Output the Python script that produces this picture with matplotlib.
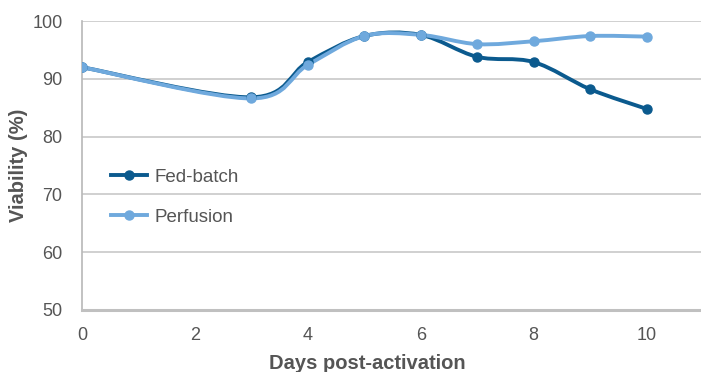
import numpy as np
import matplotlib
matplotlib.use("Agg")
from matplotlib import pyplot as plt
from matplotlib.path import Path
from matplotlib.patches import PathPatch
from matplotlib.lines import Line2D

days = [0, 3, 4, 5, 6, 7, 8, 9, 10]
fed_batch = [92.0, 86.8, 92.9, 97.4, 97.6, 93.8, 92.9, 88.2, 84.8]
perfusion = [92.0, 86.6, 92.4, 97.4, 97.6, 96.0, 96.5, 97.4, 97.3]

x_ticks = [0, 2, 4, 6, 8, 10]
y_ticks = [50, 60, 70, 80, 90, 100]

dark_blue = "#0B5A8E"
light_blue = "#6FA9DD"
text_grey = "#555555"

plt.rcParams["font.family"] = ["Liberation Sans", "DejaVu Sans"]


def smooth_path(xs, ys):
    # bezier segments through each point, spreadsheet-style smoothing
    pts = np.column_stack([xs, ys]).astype(float)
    verts = [pts[0]]
    codes = [Path.MOVETO]
    n = len(pts)
    for i in range(n - 1):
        p0 = pts[i - 1] if i > 0 else pts[i]
        p1 = pts[i]
        p2 = pts[i + 1]
        p3 = pts[i + 2] if i + 2 < n else pts[i + 1]
        c1 = p1 + (p2 - p0) / 6.0
        c2 = p2 - (p3 - p1) / 6.0
        verts += [c1, c2, p2]
        codes += [Path.CURVE4] * 3
    return Path(verts, codes)


fig = plt.figure(figsize=(7.01, 3.72), dpi=100)
ax = fig.add_axes([82 / 701, 1 - 310 / 372, 621 / 701, 289 / 372])

for vals, colour, name in [(fed_batch, dark_blue, "Fed-batch"),
                           (perfusion, light_blue, "Perfusion")]:
    ax.add_patch(PathPatch(smooth_path(days, vals), facecolor="none",
                           edgecolor=colour, lw=2.8, capstyle="round",
                           joinstyle="round", zorder=3))
    ax.plot(days, vals, linestyle="none", marker="o", markersize=6.5,
            color=colour, zorder=4)

ax.set_xlim(0, 11)
ax.set_ylim(50, 100)
ax.set_xticks(x_ticks)
ax.set_yticks(y_ticks)
ax.tick_params(length=0, labelsize=13, colors=text_grey)
ax.tick_params(axis="y", pad=14)
ax.tick_params(axis="x", pad=12)

ax.grid(axis="y", color="#c8c8c8", lw=1.2)
ax.set_axisbelow(True)
for side in ["top", "right"]:
    ax.spines[side].set_visible(False)
ax.spines["left"].set_color("#b8b8b8")
ax.spines["left"].set_linewidth(1.2)
ax.spines["bottom"].set_color("#c0c0c0")
ax.spines["bottom"].set_linewidth(2.2)

ax.set_ylabel("Viability (%)", fontsize=14.5, fontweight="bold", color=text_grey)
ax.yaxis.set_label_coords(-54 / 621, 0.5)
ax.set_xlabel("Days post-activation", fontsize=14.5, fontweight="bold",
              color=text_grey)
ax.xaxis.set_label_coords(285 / 621, -44 / 289)

handles = [Line2D([], [], color=dark_blue, lw=2.8, marker="o", markersize=6.5),
           Line2D([], [], color=light_blue, lw=2.8, marker="o", markersize=6.5)]
ax.legend(handles, ["Fed-batch", "Perfusion"], loc="upper left",
          bbox_to_anchor=(12 / 621, 158 / 289), frameon=False, fontsize=13.5,
          labelcolor=text_grey, handlelength=1.9, handletextpad=0.4,
          labelspacing=1.2)

fig.savefig("out.png", dpi=100)
